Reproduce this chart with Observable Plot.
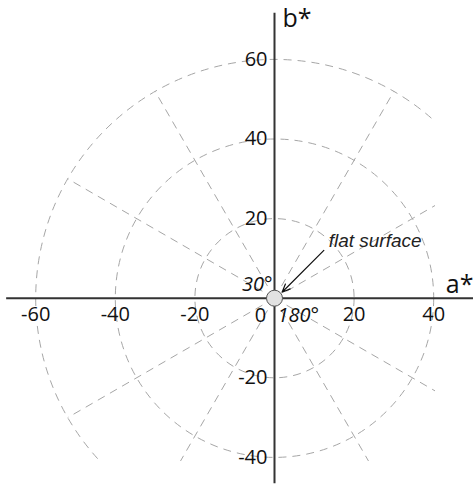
<!DOCTYPE html>
<html>
<head>
<meta charset="utf-8">
<script src="https://cdn.jsdelivr.net/npm/d3@7"></script>
<script src="https://cdn.jsdelivr.net/npm/@observablehq/plot@0.6"></script>
<style>
  html, body { margin: 0; padding: 0; background: #fff; }
  #chart svg { display: block; overflow: visible; }
</style>
</head>
<body>
<div id="chart"></div>
<script>
// ---- data ----
const ringRadii = [20, 40, 60];                          // dashed chroma circles
const spokeAngles = [30, 60, 120, 150, 210, 240, 300, 330]; // dashed hue spokes (degrees)
const spokeLength = 60;
const xTicks = [-60, -40, -20, 20, 40];
const yTicks = [-40, -20, 20, 40, 60];
const axisExtentA = [-67.3, 50];   // a* axis line extent
const axisExtentB = [-46.6, 71.6]; // b* axis line extent
const flatSurface = [{label: "flat surface", a: 13.6, b: 12.9, fromA: 12.4, fromB: 12.0, toA: 1.9, toB: 1.5}];
const angleLabels = [
  {label: "30°", anchor: "end", dx: -2, dy: -14},
  {label: "180°", anchor: "start", dx: 3, dy: 17}
];

// ---- scales ----
const k = 3.98;                  // px per unit
const W = 474, H = 486;
const frameRight = 435, frameBottom = 461;
const ox = 274, oy = 297.7;      // origin in px
const xDomain = [-ox / k, (frameRight - ox) / k];
const yDomain = [-(frameBottom - oy) / k, oy / k];

const gridStyle = {stroke: "#a6a6a6", strokeWidth: 1, strokeDasharray: "8,6", clip: "frame"};
const tickFont = "'Open Sans', sans-serif";

const chart = Plot.plot({
  width: W,
  height: H,
  marginLeft: 0,
  marginRight: W - frameRight,
  marginTop: 0,
  marginBottom: H - frameBottom,
  x: {domain: xDomain, axis: null},
  y: {domain: yDomain, axis: null},
  r: {type: "linear", domain: [0, 60], range: [0, 60 * k]},
  style: {background: "#fff", overflow: "visible"},
  marks: [
    Plot.dot(ringRadii, {x: 0, y: 0, r: d => d, fill: "none", ...gridStyle}),
    Plot.link(spokeAngles, {
      x1: 0, y1: 0,
      x2: a => spokeLength * Math.cos(a * Math.PI / 180),
      y2: a => spokeLength * Math.sin(a * Math.PI / 180),
      ...gridStyle
    }),
    // axes
    Plot.ruleY([0], {x1: axisExtentA[0], x2: axisExtentA[1], stroke: "#333", strokeWidth: 2}),
    Plot.ruleX([0], {y1: axisExtentB[0], y2: axisExtentB[1], stroke: "#333", strokeWidth: 2}),
    // tick labels
    Plot.text(xTicks, {x: d => d, y: 0, text: d => String(d), dy: 16, lineAnchor: "middle",
      fontSize: 20, fontFamily: tickFont, fill: "#111"}),
    Plot.text([0], {x: 0, y: 0, text: d => String(d), dx: -14, dy: 17, lineAnchor: "middle",
      fontSize: 20, fontFamily: tickFont, fill: "#111"}),
    Plot.text(yTicks, {x: 0, y: d => d, text: d => String(d), textAnchor: "end", dx: -7, lineAnchor: "middle",
      fontSize: 20, fontFamily: tickFont, fill: "#111"}),
    // axis titles
    Plot.text(["b*"], {x: 0, y: axisExtentB[1], text: d => d, textAnchor: "start", lineAnchor: "top", dx: 8, dy: -4,
      fontSize: 25, fontFamily: tickFont, fill: "#111"}),
    Plot.text(["a*"], {x: axisExtentA[1], y: 0, text: d => d, textAnchor: "end", lineAnchor: "bottom", dx: 0, dy: -5,
      fontSize: 25, fontFamily: tickFont, fill: "#111"}),
    // annotation
    Plot.arrow(flatSurface, {x1: "fromA", y1: "fromB", x2: "toA", y2: "toB",
      stroke: "#111", strokeWidth: 1.2, headLength: 11, headAngle: 45}),
    Plot.dot([0], {x: 0, y: 0, r: 8, fill: "#e2e2e2", stroke: "#555", strokeWidth: 1}),
    Plot.text(flatSurface, {x: "a", y: "b", text: "label", textAnchor: "start", lineAnchor: "bottom",
      fontSize: 19, fontStyle: "italic", fontFamily: "'Liberation Sans', Arial, sans-serif", fill: "#222"}),
    ...angleLabels.map(l => Plot.text([l], {x: 0, y: 0, text: "label", textAnchor: l.anchor, lineAnchor: "middle",
      dx: l.dx, dy: l.dy, fontSize: 20, fontStyle: "italic", fontFamily: tickFont, fill: "#111"}))
  ]
});
document.getElementById("chart").appendChild(chart);
</script>
</body>
</html>
